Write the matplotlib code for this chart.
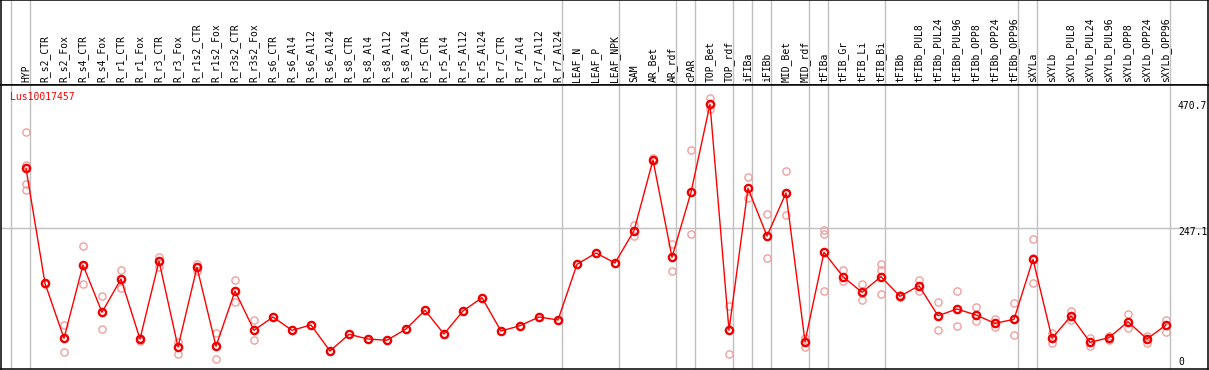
import matplotlib
matplotlib.use("Agg")
import matplotlib.pyplot as plt

gene = "Lus10017457"

categories = ["HYP",
    "R_s2_CTR", "R_s2_Fox", "R_s4_CTR", "R_s4_Fox", "R_r1_CTR", "R_r1_Fox",
    "R_r3_CTR", "R_r3_Fox", "R_r1s2_CTR", "R_r1s2_Fox", "R_r3s2_CTR", "R_r3s2_Fox",
    "R_s6_CTR", "R_s6_Al4", "R_s6_Al12", "R_s6_Al24", "R_s8_CTR", "R_s8_Al4",
    "R_s8_Al12", "R_s8_Al24", "R_r5_CTR", "R_r5_Al4", "R_r5_Al12", "R_r5_Al24",
    "R_r7_CTR", "R_r7_Al4", "R_r7_Al12", "R_r7_Al24",
    "LEAF_N", "LEAF_P", "LEAF_NPK",
    "SAM", "AR_Bet", "AR_rdf",
    "cPAR",
    "TOP_Bet", "TOP_rdf",
    "iFIBa",
    "iFIBb",
    "MID_Bet", "MID_rdf",
    "tFIBa",
    "tFIB_Gr", "tFIB_Li", "tFIB_Bi",
    "tFIBb", "tFIBb_PUL8", "tFIBb_PUL24", "tFIBb_PUL96", "tFIBb_OPP8",
    "tFIBb_OPP24", "tFIBb_OPP96",
    "sXYLa",
    "sXYLb", "sXYLb_PUL8", "sXYLb_PUL24", "sXYLb_PUL96", "sXYLb_OPP8",
    "sXYLb_OPP24", "sXYLb_OPP96"]

# sizes of the sample groups (separated by vertical grid lines)
group_sizes = [1, 28, 3, 3, 1, 2, 1, 1, 2, 1, 3, 7, 1, 7]

means = [355.2,
    147.9, 48.7, 180.9, 95.6, 155.6, 47.4,
    188.0, 33.0, 176.7, 34.3, 134.0, 63.1,
    87.1, 63.1, 72.7, 25.8, 55.9, 47.4,
    45.1, 65.5, 99.2, 56.4, 97.9, 121.9,
    61.8, 71.4, 87.1, 81.7,
    182.1, 202.5, 184.5,
    242.7, 370.2, 194.7,
    311.9,
    470.7, 63.1,
    319.2,
    233.1,
    310.7, 42.6,
    203.7,
    159.8, 131.6, 159.8,
    124.4, 143.5, 89.4, 101.5, 90.7,
    75.7, 82.9,
    191.1,
    48.7, 88.9, 41.5, 49.8, 78.6,
    47.4, 72.7]

replicates = [[420, 361, 326, 315.5],
    [149, 146], [72.7, 50, 23.4], [214.6, 146], [124.4, 64.9], [171.3, 138.8], [49.5, 44],
    [195.9, 177.8], [42.6, 20.9], [182.7, 170.6], [57.7, 10.8], [153.3, 114.7], [81.1, 45.1],
    [], [], [], [], [], [],
    [], [], [], [], [], [],
    [], [], [], [],
    [], [], [],
    [253, 243, 233.7], [373, 368], [218.2, 196, 170],
    [387.7, 236.2],
    [481.4, 462.1], [106.9, 19.8],
    [339.5, 302.2],
    [272.8, 192.9],
    [349.8, 270.5], [49.8, 33],
    [243.4, 236.7, 134],
    [171.3, 152], [146, 117.7, 131], [182.1, 171.3, 128],
    [126, 123], [153.5, 134], [114.9, 63.1], [134, 70.5], [105.1, 80.2],
    [83.7, 69.8], [111.8, 54.6],
    [227.7, 194.3, 148.4],
    [58.2, 40.8], [97.9, 80.8], [48.7, 35.3], [53, 46], [92, 67.8],
    [53.3, 40.2], [81.7, 60.8]]

ytick_values = [470.7, 247.1, 0]
ytick_labels = ["470.7", "247.1", "0"]

W, H = 1209, 370
fig = plt.figure(figsize=(W / 100, H / 100), dpi=100)
FONT = "DejaVu Sans Mono"
FS = 7

# pixel geometry
left_px, right_px = 1, 1208
header_top, header_bot = 0, 85
main_bot = 369

ax_h = fig.add_axes([left_px / W, (H - header_bot) / H, (right_px - left_px) / W, header_bot / H])
ax = fig.add_axes([left_px / W, (H - main_bot) / H, (right_px - left_px) / W, (main_bot - header_bot) / H])

x0_px, dx_px = 26, 19
xmin = (left_px - x0_px) / dx_px
xmax = (right_px - x0_px) / dx_px
for a in (ax, ax_h):
    a.set_xlim(xmin, xmax)
    a.set_xticks([])
    a.set_yticks([])
    for s in a.spines.values():
        s.set_color("black")
        s.set_linewidth(1.1)

ax.set_ylim(-6.67, 505.4)
ax_h.set_ylim(0, header_bot)

# vertical group lines
bounds = [-1]
acc = -1
for g in group_sizes:
    acc += g
    bounds.append(acc)
for b in bounds:
    for a in (ax, ax_h):
        a.axvline(b + 0.23, color="#c0c0c0", lw=1.0, zorder=0)

# horizontal grid at middle tick
ax.axhline(ytick_values[1], color="#c0c0c0", lw=1.0, zorder=0)

xs = list(range(len(categories)))

# replicates
for i, reps in enumerate(replicates):
    if reps:
        ax.plot([i] * len(reps), reps, linestyle="none", marker="o", ms=5.2,
                mfc="none", mec="#f0a0a0", mew=1.0, zorder=2)

# mean line
ax.plot(xs, means, color="#ff0000", lw=1.0, marker="o", ms=5.2, mfc="none",
        mec="#ee0000", mew=1.7, zorder=3)

# header labels
for i, c in enumerate(categories):
    ax_h.text(i, header_bot - 82.5, c, rotation=90, ha="center", va="bottom",
              fontsize=FS, family=FONT, color="black")

# gene label
ax.text((10 - x0_px) / dx_px, 483.5, gene, color="#ff0000", fontsize=FS,
        family=FONT, ha="left", va="center")

# y labels on right
lx = (1178 - x0_px) / dx_px
ax.text(lx, 468.0, ytick_labels[0], fontsize=FS, family=FONT, ha="left", va="center")
ax.text(lx, 240.0, ytick_labels[1], fontsize=FS, family=FONT, ha="left", va="center")
ax.text(lx, 6.0, ytick_labels[2], fontsize=FS, family=FONT, ha="left", va="center")

fig.savefig("out.png", dpi=100)
